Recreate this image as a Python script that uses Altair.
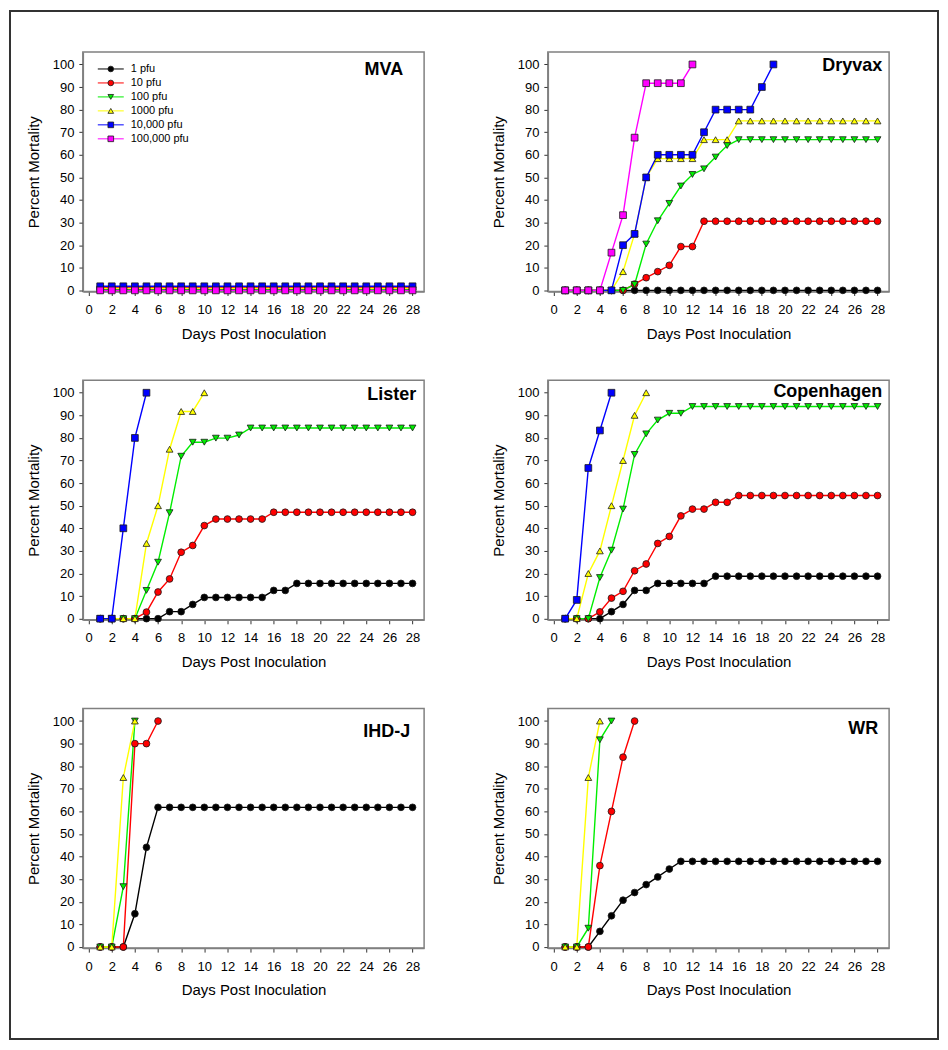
import altair as alt
import pandas as pd

FONT = "Liberation Sans"

SERIES = ["1 pfu", "10 pfu", "100 pfu", "1000 pfu", "10,000 pfu", "100,000 pfu"]
COLORS = ["#000000", "#ff0000", "#00ee00", "#ffff00", "#0000ff", "#ff00ff"]
SHAPES = ["circle", "circle", "triangle-down", "triangle-up", "square", "square"]

X_TICKS = [0, 2, 4, 6, 8, 10, 12, 14, 16, 18, 20, 22, 24, 26, 28]
Y_TICKS = [0, 10, 20, 30, 40, 50, 60, 70, 80, 90, 100]

# ---- values (percent mortality, day 1 onward) ----
MVA_1 = [0.4, 0.4, 0.4, 0.4, 0.4, 0.4, 0.4, 0.4, 0.4, 0.4, 0.4, 0.4, 0.4, 0.4,
         0.4, 0.4, 0.4, 0.4, 0.4, 0.4, 0.4, 0.4, 0.4, 0.4, 0.4, 0.4, 0.4, 0.4]
MVA_10 = [1.3, 1.3, 1.3, 1.3, 1.3, 1.3, 1.3, 1.3, 1.3, 1.3, 1.3, 1.3, 1.3, 1.3,
          1.3, 1.3, 1.3, 1.3, 1.3, 1.3, 1.3, 1.3, 1.3, 1.3, 1.3, 1.3, 1.3, 1.3]
MVA_100 = [0.6, 0.6, 0.6, 0.6, 0.6, 0.6, 0.6, 0.6, 0.6, 0.6, 0.6, 0.6, 0.6, 0.6,
           0.6, 0.6, 0.6, 0.6, 0.6, 0.6, 0.6, 0.6, 0.6, 0.6, 0.2, 0.6, 0.6, 0.6]
MVA_1000 = [0.9, 0.9, 0.9, 0.9, 0.9, 0.9, 0.9, 0.9, 0.9, 0.9, 0.9, 0.9, 0.9, 0.9,
            0.9, 0.9, 0.9, 0.9, 0.9, 0.9, 0.9, 0.9, 0.9, 0.9, 0.9, 0.9, 0.9, 0.9]
MVA_10000 = [1.8, 1.8, 1.8, 1.8, 1.8, 1.8, 1.8, 1.8, 1.8, 1.8, 1.8, 1.8, 1.8, 1.8,
             1.8, 1.8, 1.8, 1.8, 1.8, 1.8, 1.8, 1.8, 1.8, 1.8, 1.8, 1.8, 1.8, 1.8]
MVA_100000 = [0, 0, 0, 0, 0, 0, 0, 0, 0, 0, 0, 0, 0, 0,
              0, 0, 0, 0, 0, 0, 0, 0, 0, 0, 0, 0, 0, 0]

DRYVAX_1 = [0, 0, 0, 0, 0, 0, 0, 0, 0, 0, 0, 0, 0, 0,
            0, 0, 0, 0, 0, 0, 0, 0, 0, 0, 0, 0, 0, 0]
DRYVAX_10 = [0, 0, 0, 0, 0, 0, 2.8, 5.6, 8.3, 11.1, 19.4, 19.4, 30.6, 30.6,
             30.6, 30.6, 30.6, 30.6, 30.6, 30.6, 30.6, 30.6, 30.6, 30.6, 30.6, 30.6, 30.6, 30.6]
DRYVAX_100 = [0, 0, 0, 0, 0, 0, 2.6, 20.5, 30.8, 38.5, 46.2, 51.3, 53.8, 59.0,
              64.1, 66.7, 66.7, 66.7, 66.7, 66.7, 66.7, 66.7, 66.7, 66.7, 66.7, 66.7, 66.7, 66.7]
DRYVAX_1000 = [0, 0, 0, 0, 0, 8.3, 25, 50, 58.3, 58.3, 58.3, 58.3, 66.7, 66.7,
               66.7, 75, 75, 75, 75, 75, 75, 75, 75, 75, 75, 75, 75, 75]
DRYVAX_10000 = [0, 0, 0, 0, 0, 20, 25, 50, 60, 60, 60, 60, 70, 80, 80, 80, 80, 90, 100]
DRYVAX_100000 = [0, 0, 0, 0, 16.7, 33.3, 67.6, 91.7, 91.7, 91.7, 91.7, 100]

LISTER_1 = [0, 0, 0, 0, 0, 0, 3.1, 3.1, 6.3, 9.4, 9.4, 9.4, 9.4, 9.4,
            9.4, 12.5, 12.5, 15.6, 15.6, 15.6, 15.6, 15.6, 15.6, 15.6, 15.6, 15.6, 15.6, 15.6]
LISTER_10 = [0, 0, 0, 0, 2.9, 11.8, 17.6, 29.4, 32.4, 41.2, 44.1, 44.1, 44.1, 44.1,
             44.1, 47.1, 47.1, 47.1, 47.1, 47.1, 47.1, 47.1, 47.1, 47.1, 47.1, 47.1, 47.1, 47.1]
LISTER_100 = [0, 0, 0, 0, 12.5, 25, 46.9, 71.9, 78.1, 78.1, 79.9, 79.9, 81.3, 84.4,
              84.4, 84.4, 84.4, 84.4, 84.4, 84.4, 84.4, 84.4, 84.4, 84.4, 84.4, 84.4, 84.4, 84.4]
LISTER_1000 = [0, 0, 0, 0, 33.3, 50, 75, 91.7, 91.7, 100]
LISTER_10000 = [0, 0, 40, 80, 100]

COPEN_1 = [0, 0, 0, 0, 3.1, 6.3, 12.5, 12.5, 15.6, 15.6, 15.6, 15.6, 15.6, 18.8,
           18.8, 18.8, 18.8, 18.8, 18.8, 18.8, 18.8, 18.8, 18.8, 18.8, 18.8, 18.8, 18.8, 18.8]
COPEN_10 = [0, 0, 0, 3.0, 9.1, 12.1, 21.2, 24.2, 33.3, 36.4, 45.5, 48.5, 48.5, 51.5,
            51.5, 54.5, 54.5, 54.5, 54.5, 54.5, 54.5, 54.5, 54.5, 54.5, 54.5, 54.5, 54.5, 54.5]
COPEN_100 = [0, 0, 0, 18.2, 30.3, 48.5, 72.7, 81.8, 87.9, 90.9, 90.9, 93.9, 93.9, 93.9,
             93.9, 93.9, 93.9, 93.9, 93.9, 93.9, 93.9, 93.9, 93.9, 93.9, 93.9, 93.9, 93.9, 93.9]
COPEN_1000 = [0, 0, 20, 30, 50, 70, 90, 100]
COPEN_10000 = [0, 8.3, 66.7, 83.3, 100]

IHDJ_1 = [0, 0, 0, 14.7, 44.1, 61.8, 61.8, 61.8, 61.8, 61.8, 61.8, 61.8, 61.8, 61.8,
          61.8, 61.8, 61.8, 61.8, 61.8, 61.8, 61.8, 61.8, 61.8, 61.8, 61.8, 61.8, 61.8, 61.8]
IHDJ_10 = [0, 0, 0, 90, 90, 100]
IHDJ_100 = [0, 0, 26.7, 100]
IHDJ_1000 = [0, 0, 75, 100]

WR_1 = [0, 0, 0, 6.9, 13.8, 20.7, 24.1, 27.6, 31.0, 34.5, 37.9, 37.9, 37.9, 37.9,
        37.9, 37.9, 37.9, 37.9, 37.9, 37.9, 37.9, 37.9, 37.9, 37.9, 37.9, 37.9, 37.9, 37.9]
WR_10 = [0, 0, 0, 36, 60, 84, 100]
WR_100 = [0, 0, 8.3, 91.7, 100]
WR_1000 = [0, 0, 75, 100]

PANELS = {
    "MVA": [MVA_1, MVA_10, MVA_100, MVA_1000, MVA_10000, MVA_100000],
    "Dryvax": [DRYVAX_1, DRYVAX_10, DRYVAX_100, DRYVAX_1000, DRYVAX_10000, DRYVAX_100000],
    "Lister": [LISTER_1, LISTER_10, LISTER_100, LISTER_1000, LISTER_10000, None],
    "Copenhagen": [COPEN_1, COPEN_10, COPEN_100, COPEN_1000, COPEN_10000, None],
    "IHD-J": [IHDJ_1, IHDJ_10, IHDJ_100, IHDJ_1000, None, None],
    "WR": [WR_1, WR_10, WR_100, WR_1000, None, None],
}


def panel_frame(name):
    rows = []
    for s, vals in zip(SERIES, PANELS[name]):
        if vals is None:
            continue
        for i, v in enumerate(vals):
            rows.append({"series": s, "day": i + 1, "pct": v})
    return pd.DataFrame(rows)


color_scale = alt.Scale(domain=SERIES, range=COLORS)
shape_scale = alt.Scale(domain=SERIES, range=SHAPES)
x_scale = alt.Scale(domain=[-0.5, 29], nice=False, zero=False)
y_scale = alt.Scale(domain=[-0.5, 105.5], nice=False, zero=False)

x_axis = alt.Axis(values=X_TICKS, title="Days Post Inoculation", grid=False,
                  labelPadding=8, titlePadding=10, tickSize=4)
y_axis = alt.Axis(values=Y_TICKS, title="Percent Mortality", grid=False,
                  labelPadding=5, titlePadding=11, tickSize=4)

W, H = 342, 240


def panel(name, tx, ty, legend=False, border=False):
    df = panel_frame(name)
    base = alt.Chart(df)
    enc_x = alt.X("day:Q", scale=x_scale, axis=x_axis)
    enc_y = alt.Y("pct:Q", scale=y_scale, axis=y_axis)
    lines = base.mark_line(strokeWidth=1.4).encode(
        x=enc_x, y=enc_y,
        color=alt.Color("series:N", scale=color_scale, legend=None),
        order="day:Q",
    )
    points = base.mark_point(filled=True, size=46, strokeWidth=0.8, opacity=1).encode(
        x=enc_x, y=enc_y,
        fill=alt.Fill("series:N", scale=color_scale, legend=None),
        shape=alt.Shape("series:N", scale=shape_scale, legend=None),
        stroke=alt.value("#1a1a1a"),
    )
    title = alt.Chart(pd.DataFrame({"label": [name]})).mark_text(
        align="right", baseline="alphabetic", fontSize=18, fontWeight="bold",
        font=FONT, color="black",
    ).encode(x=alt.value(tx), y=alt.value(ty), text="label:N")
    layers = [lines, points, title]
    if border:
        frame = alt.Chart(pd.DataFrame({"b": [0]})).mark_rect(
            fill="transparent", stroke="#333333", strokeWidth=2
        ).encode(x=alt.value(-73), x2=alt.value(857), y=alt.value(-41), y2=alt.value(989))
        layers.append(frame)
    data_layer = alt.layer(*layers)
    if not legend:
        return data_layer.properties(width=W, height=H)

    leg_df = pd.DataFrame({"series": SERIES})
    leg_y = alt.Y("series:N", sort=SERIES,
                  scale=alt.Scale(type="point", domain=SERIES, range=[17, 87], padding=0),
                  axis=None)
    lbase = alt.Chart(leg_df)
    lrule = lbase.mark_rule(strokeWidth=1).encode(
        x=alt.value(15), x2=alt.value(41), y=leg_y,
        color=alt.Color("series:N", scale=color_scale, legend=None),
    )
    lpts = lbase.mark_point(filled=True, size=32, strokeWidth=0.8, opacity=1).encode(
        x=alt.value(28), y=leg_y,
        fill=alt.Fill("series:N", scale=color_scale, legend=None),
        shape=alt.Shape("series:N", scale=shape_scale, legend=None),
        stroke=alt.value("#1a1a1a"),
    )
    ltxt = lbase.mark_text(align="left", baseline="middle", fontSize=11, font=FONT,
                           color="black").encode(
        x=alt.value(48), y=leg_y, text="series:N"
    )
    leg_layer = alt.layer(lrule, lpts, ltxt)
    return alt.layer(data_layer, leg_layer).resolve_scale(y="independent").properties(
        width=W, height=H)


mva = panel("MVA", 321, 23, legend=True, border=True)
dry = panel("Dryvax", 335, 19.5)
lis = panel("Lister", 334, 19.5)
cop = panel("Copenhagen", 335, 17)
ihd = panel("IHD-J", 328, 28)
wr = panel("WR", 331, 25.5)

chart = alt.concat(
    mva, dry, lis, cop, ihd, wr, columns=2,
    spacing={"row": 89, "column": 124}, bounds="flush",
).properties(
    padding=0, background="white"
).configure_view(
    stroke="#808080", strokeWidth=1.5
).configure_axis(
    labelFont=FONT, labelFontSize=13, labelColor="black",
    titleFont=FONT, titleFontSize=15, titleFontWeight="normal", titleColor="black",
    domainColor="#808080", domainWidth=1.5, tickColor="#333333", tickWidth=1,
)

chart.save("out.html", embed_options={"renderer": "svg", "actions": False})
